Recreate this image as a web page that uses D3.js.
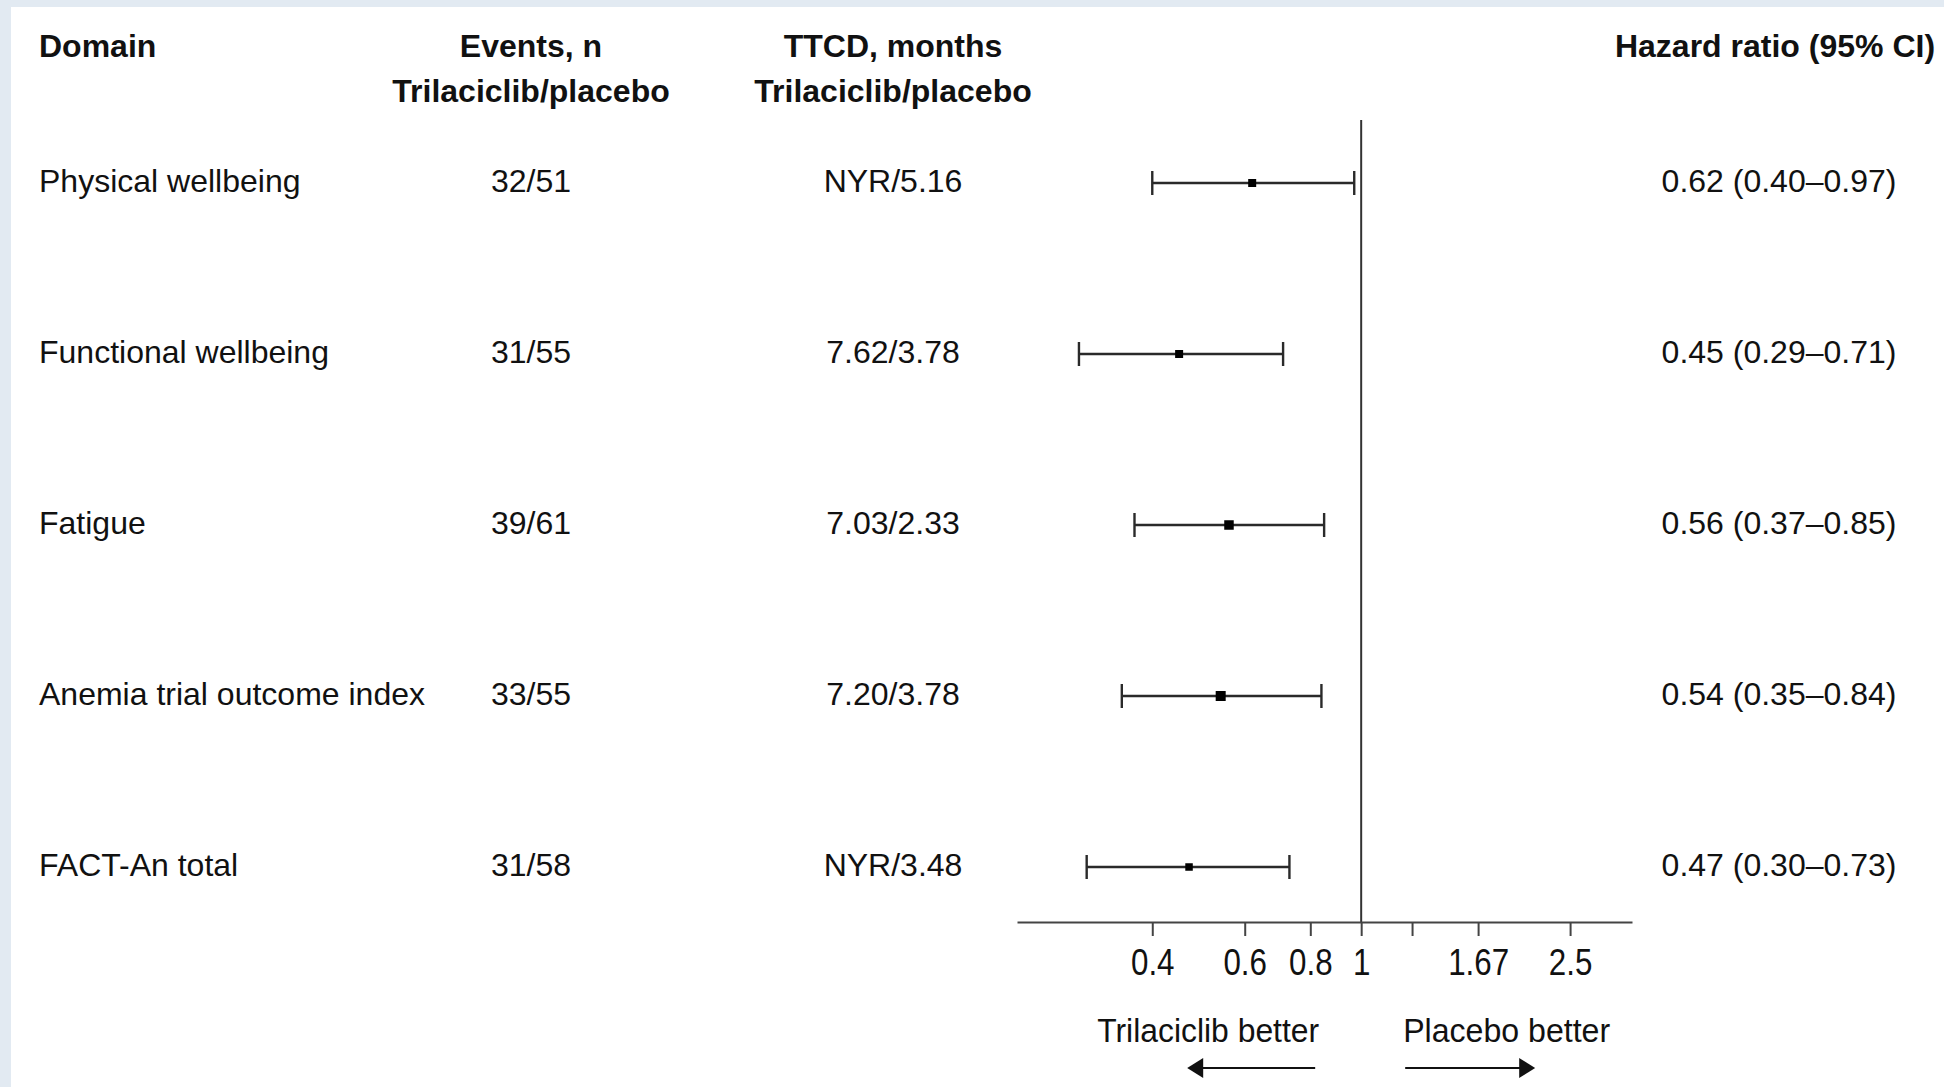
<!DOCTYPE html>
<html>
  <head>
    <meta charset="utf-8">
    <title>Forest plot: time to confirmed deterioration</title>
    <style>
      html, body { margin: 0; padding: 0; background: #e2eaf2; }
      svg { display: block; }
      text { font-family: "Liberation Sans", Arial, Helvetica, sans-serif; fill: #111; }
    </style>
  </head>
  <body>
    <div id="chart"></div>
    <script src="https://cdn.jsdelivr.net/npm/d3@7"></script>
    <script>
      var domains = ['Physical wellbeing', 'Functional wellbeing', 'Fatigue',
        'Anemia trial outcome index', 'FACT-An total'];
      var events = ['32/51', '31/55', '39/61', '33/55', '31/58'];
      var ttcd = ['NYR/5.16', '7.62/3.78', '7.03/2.33', '7.20/3.78', 'NYR/3.48'];
      var hr = [0.62, 0.45, 0.56, 0.54, 0.47];
      var lower = [0.40, 0.29, 0.37, 0.35, 0.30];
      var upper = [0.97, 0.71, 0.85, 0.84, 0.73];
      var tickValues = [0.4, 0.6, 0.8, 1, 1.25, 1.67, 2.5];
      var tickLabels = ['0.4', '0.6', '0.8', '1', '', '1.67', '2.5'];

      (function(d3) {
        'use strict';
        var width = 1944;
        var height = 1087;
        var axisY = 922;
        var fmt = d3.format('.2f');
        // marker box sizes as drawn in the source figure
        var boxSize = [8, 8, 9.5, 10, 7.5];

        var svg = d3.select('#chart')
          .append('svg')
          .attr('width', width)
          .attr('height', height);

        // white panel inside the pale frame
        svg.append('rect')
          .attr('x', 11).attr('y', 7)
          .attr('width', width - 11).attr('height', height - 7)
          .attr('fill', '#fff');

        var x = d3.scaleLog()
          .domain([0.221, 3.28])
          .range([1017, 1632]);

        var y = d3.scalePoint()
          .domain(domains)
          .range([183, 867]);

        var rows = domains.map(function(d, i) {
          return { domain: d, events: events[i], ttcd: ttcd[i],
            hr: hr[i], lo: lower[i], hi: upper[i], box: boxSize[i] };
        });

        // column headers
        var head = svg.append('g').attr('font-size', 32).attr('font-weight', 'bold');
        head.append('text').attr('x', 39).attr('y', 57).text('Domain');
        head.append('text').attr('x', 531).attr('y', 57)
          .attr('text-anchor', 'middle').text('Events, n');
        head.append('text').attr('x', 531).attr('y', 102)
          .attr('text-anchor', 'middle').text('Trilaciclib/placebo');
        head.append('text').attr('x', 893).attr('y', 57)
          .attr('text-anchor', 'middle').text('TTCD, months');
        head.append('text').attr('x', 893).attr('y', 102)
          .attr('text-anchor', 'middle').text('Trilaciclib/placebo');
        head.append('text').attr('x', 1775).attr('y', 57)
          .attr('text-anchor', 'middle').text('Hazard ratio (95% CI)');

        // table text
        var row = svg.selectAll('g.row')
          .data(rows)
          .enter()
          .append('g')
          .attr('class', 'row')
          .attr('font-size', 32)
          .attr('transform', function(d) { return 'translate(0,' + y(d.domain) + ')'; });

        row.append('text').attr('x', 39).attr('y', 9)
          .text(function(d) { return d.domain; });
        row.append('text').attr('x', 531).attr('y', 9)
          .attr('text-anchor', 'middle')
          .text(function(d) { return d.events; });
        row.append('text').attr('x', 893).attr('y', 9)
          .attr('text-anchor', 'middle')
          .text(function(d) { return d.ttcd; });
        row.append('text').attr('x', 1779).attr('y', 9)
          .attr('text-anchor', 'middle')
          .text(function(d) {
            return fmt(d.hr) + ' (' + fmt(d.lo) + '\u2013' + fmt(d.hi) + ')';
          });

        // line of no effect
        svg.append('line')
          .attr('x1', x(1)).attr('x2', x(1))
          .attr('y1', 120).attr('y2', axisY)
          .attr('stroke', '#333').attr('stroke-width', 2);

        // confidence intervals
        var ci = row.append('g')
          .attr('stroke', '#2a2a2a')
          .attr('stroke-width', 2.4);
        ci.append('line')
          .attr('x1', function(d) { return x(d.lo); })
          .attr('x2', function(d) { return x(d.hi); });
        ci.append('line')
          .attr('x1', function(d) { return x(d.lo); })
          .attr('x2', function(d) { return x(d.lo); })
          .attr('y1', -12).attr('y2', 12);
        ci.append('line')
          .attr('x1', function(d) { return x(d.hi); })
          .attr('x2', function(d) { return x(d.hi); })
          .attr('y1', -12).attr('y2', 12);
        row.append('rect')
          .attr('x', function(d) { return x(d.hr) - d.box / 2; })
          .attr('y', function(d) { return -d.box / 2; })
          .attr('width', function(d) { return d.box; })
          .attr('height', function(d) { return d.box; })
          .attr('fill', '#000');

        // axis
        var axis = d3.axisBottom(x)
          .tickValues(tickValues)
          .tickFormat(function(d, i) { return tickLabels[i]; })
          .tickSize(14)
          .tickSizeOuter(0);
        var gx = svg.append('g')
          .attr('transform', 'translate(0,' + axisY + ')')
          .call(axis);
        gx.select('.domain').attr('stroke', '#444').attr('stroke-width', 2);
        gx.selectAll('.tick line').attr('stroke', '#444').attr('stroke-width', 2);
        gx.selectAll('.tick text')
          .attr('y', 53).attr('dy', 0)
          .attr('font-size', 36)
          .attr('fill', '#111')
          .attr('font-family', '"Liberation Sans", Arial, sans-serif')
          .attr('transform', 'scale(0.87,1)');

        // direction labels and arrows
        var x1 = x(1);
        var dir = svg.append('g').attr('font-size', 34);
        dir.append('text').attr('x', x1 - 153).attr('y', 1042)
          .attr('text-anchor', 'middle')
          .attr('textLength', 222).attr('lengthAdjust', 'spacingAndGlyphs')
          .text('Trilaciclib better');
        dir.append('text').attr('x', x1 + 42).attr('y', 1042)
          .attr('textLength', 207).attr('lengthAdjust', 'spacingAndGlyphs')
          .text('Placebo better');

        var arrowY = 1068;
        var arrows = svg.append('g').attr('stroke', '#111').attr('stroke-width', 2);
        arrows.append('line')
          .attr('x1', x1 - 46).attr('x2', x1 - 160)
          .attr('y1', arrowY).attr('y2', arrowY);
        arrows.append('line')
          .attr('x1', x1 + 44).attr('x2', x1 + 160)
          .attr('y1', arrowY).attr('y2', arrowY);
        svg.append('path')
          .attr('d', 'M' + (x1 - 174) + ',' + arrowY + 'l16,-10v20z')
          .attr('fill', '#111');
        svg.append('path')
          .attr('d', 'M' + (x1 + 174) + ',' + arrowY + 'l-16,-10v20z')
          .attr('fill', '#111');
      })(window.d3);
    </script>
  </body>
</html>
